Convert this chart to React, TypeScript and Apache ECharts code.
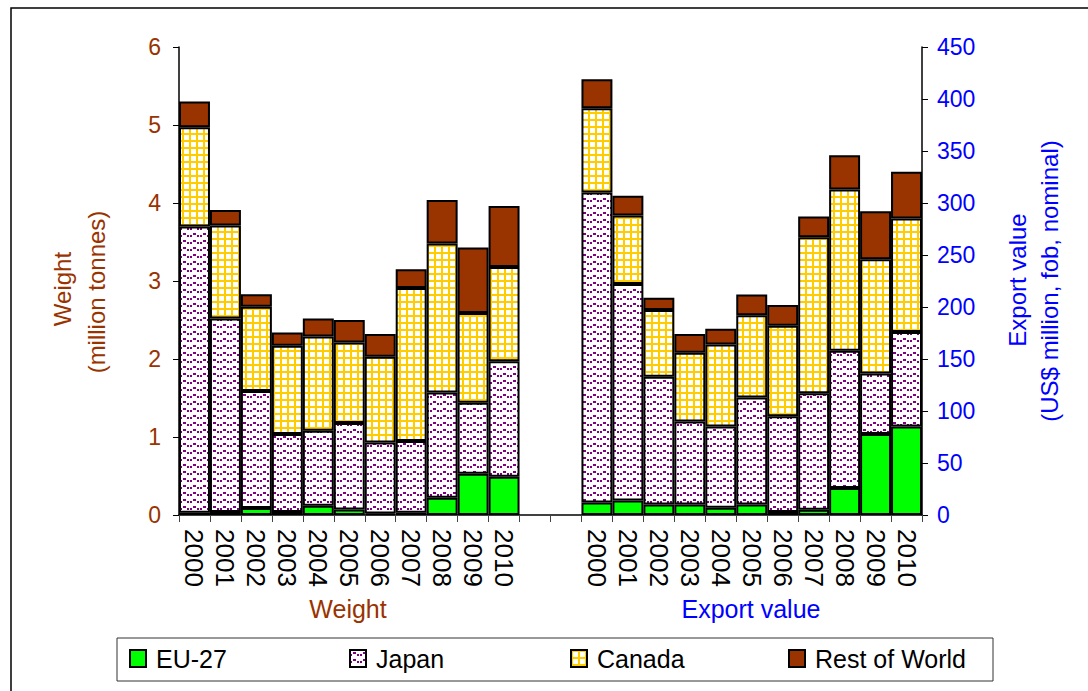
import React, { useEffect, useRef } from 'react';
import * as echarts from 'echarts';

const years = ['2000', '2001', '2002', '2003', '2004', '2005', '2006', '2007', '2008', '2009', '2010'];
const gapCategories = ['', ''];

// Weight (million tonnes)
const weightEU = [0.03, 0.04, 0.09, 0.04, 0.12, 0.07, 0.02, 0.03, 0.22, 0.53, 0.49];
const weightJapan = [3.67, 2.48, 1.5, 1.0, 0.96, 1.11, 0.91, 0.92, 1.35, 0.91, 1.48];
const weightCanada = [1.27, 1.19, 1.08, 1.13, 1.21, 1.03, 1.1, 1.96, 1.91, 1.15, 1.21];
const weightRoW = [0.33, 0.2, 0.16, 0.17, 0.23, 0.29, 0.29, 0.24, 0.56, 0.84, 0.78];

// Export value (US$ million)
const valueEU = [12, 14, 10, 10, 7, 10, 3, 5, 26, 78, 85];
const valueJapan = [298, 208, 123, 80, 78, 103, 92, 112, 132, 58, 91];
const valueCanada = [81, 66, 64, 66, 79, 79, 87, 150, 155, 110, 109];
const valueRoW = [28, 19, 12, 18, 15, 20, 20, 20, 33, 46, 45];

const seriesNames = ['EU-27', 'Japan', 'Canada', 'Rest of World'];

const FONT = '"Liberation Sans", Arial, sans-serif';
const BROWN = '#993300';
const BLUE = '#0000FF';

function japanPattern() {
  const c = document.createElement('canvas');
  c.width = 10;
  c.height = 7;
  const g = c.getContext('2d')!;
  g.fillStyle = '#ffffff';
  g.fillRect(0, 0, 10, 7);
  g.fillStyle = '#800080';
  g.fillRect(0, 4, 2, 2);
  g.fillRect(3, 2, 3, 2);
  g.fillRect(7, 4, 2, 2);
  return c;
}

function canadaPattern() {
  const c = document.createElement('canvas');
  c.width = 7;
  c.height = 7;
  const g = c.getContext('2d')!;
  g.fillStyle = '#ffffff';
  g.fillRect(0, 0, 7, 7);
  g.fillStyle = '#FFCC00';
  g.fillRect(0, 0, 7, 2);
  g.fillRect(0, 0, 2, 7);
  return c;
}

export default function App() {
  const ref = useRef<HTMLDivElement>(null);

  useEffect(() => {
    if (!ref.current) return;
    const chart = echarts.init(ref.current, null, { renderer: 'svg' });

    const categories = [...years, ...gapCategories, ...years];
    const blanks = (n: number) => Array(n).fill('-');
    const nGap = gapCategories.length;
    const weightPad = (arr: number[]) => [...arr, ...blanks(nGap + years.length)];
    const valuePad = (arr: number[]) => [...blanks(years.length + nGap), ...arr];

    const colors: any[] = [
      '#00FF00',
      { image: japanPattern(), repeat: 'repeat' },
      { image: canadaPattern(), repeat: 'repeat' },
      '#993300',
    ];

    const weightData = [weightEU, weightJapan, weightCanada, weightRoW];
    const valueData = [valueEU, valueJapan, valueCanada, valueRoW];

    const series: any[] = [];
    seriesNames.forEach((name, i) => {
      series.push({
        type: 'bar',
        name,
        stack: 'weight',
        yAxisIndex: 0,
        data: weightPad(weightData[i]),
        barGap: '-100%',
        barCategoryGap: '0%',
        itemStyle: { color: colors[i], borderColor: '#000', borderWidth: 2 },
        emphasis: { disabled: true },
      });
    });
    seriesNames.forEach((name, i) => {
      series.push({
        type: 'bar',
        name,
        stack: 'value',
        yAxisIndex: 1,
        data: valuePad(valueData[i]),
        barGap: '-100%',
        barCategoryGap: '0%',
        itemStyle: { color: colors[i], borderColor: '#000', borderWidth: 2 },
        emphasis: { disabled: true },
      });
    });

    const legendLefts = [129, 349, 570, 788];
    const legends = seriesNames.map((name, i) => ({
      data: [name],
      left: legendLefts[i],
      top: 646,
      padding: 0,
      itemWidth: 16,
      itemHeight: 17,
      icon: 'rect',
      selectedMode: false,
      textStyle: { fontSize: 25, color: '#000', fontFamily: FONT, padding: [0, 0, 0, 5] },
    }));

    chart.setOption({
      animation: false,
      backgroundColor: '#ffffff',
      grid: { left: 179, right: 166, top: 47, bottom: 176, containLabel: false },
      legend: legends,
      xAxis: {
        type: 'category',
        data: categories,
        axisLine: { show: true, lineStyle: { color: '#000', width: 1.5 } },
        axisTick: { show: true, length: 7, lineStyle: { color: '#444' }, interval: 0 },
        axisLabel: {
          interval: 0,
          rotate: -90,
          fontSize: 26,
          color: '#000',
          fontFamily: FONT,
          margin: 14,
        },
        splitLine: { show: false },
      },
      yAxis: [
        {
          type: 'value',
          min: 0,
          max: 6,
          interval: 1,
          position: 'left',
          axisLine: { show: true, lineStyle: { color: '#000', width: 1.5 } },
          axisTick: { show: true, length: 6, lineStyle: { color: '#000' } },
          axisLabel: { color: BROWN, fontSize: 23, fontFamily: FONT, margin: 18 },
          splitLine: { show: false },
        },
        {
          type: 'value',
          min: 0,
          max: 450,
          interval: 50,
          position: 'right',
          axisLine: { show: true, lineStyle: { color: '#000', width: 1.5 } },
          axisTick: { show: true, length: 6, lineStyle: { color: '#000' } },
          axisLabel: { color: BLUE, fontSize: 23, fontFamily: FONT, margin: 15 },
          splitLine: { show: false },
        },
      ],
      graphic: [
        {
          type: 'rect',
          shape: { x: 11, y: 8, width: 1200, height: 800 },
          style: { fill: 'none', stroke: '#000', lineWidth: 1.5 },
          silent: true,
        },
        {
          type: 'rect',
          shape: { x: 117, y: 638, width: 876, height: 43 },
          style: { fill: 'none', stroke: '#333', lineWidth: 1 },
          silent: true,
        },
        {
          type: 'text',
          x: 62,
          y: 289,
          rotation: Math.PI / 2,
          style: { text: 'Weight', fill: BROWN, font: `24px ${FONT}`, align: 'center', verticalAlign: 'middle' },
        },
        {
          type: 'text',
          x: 96,
          y: 292,
          rotation: Math.PI / 2,
          style: { text: '(million tonnes)', fill: BROWN, font: `24px ${FONT}`, align: 'center', verticalAlign: 'middle' },
        },
        {
          type: 'text',
          x: 1017,
          y: 280,
          rotation: Math.PI / 2,
          style: { text: 'Export value', fill: BLUE, font: `24px ${FONT}`, align: 'center', verticalAlign: 'middle' },
        },
        {
          type: 'text',
          x: 1049,
          y: 281,
          rotation: Math.PI / 2,
          style: { text: '(US$ million, fob, nominal)', fill: BLUE, font: `24px ${FONT}`, align: 'center', verticalAlign: 'middle' },
        },
        {
          type: 'text',
          x: 348,
          y: 609,
          style: { text: 'Weight', fill: BROWN, font: `25px ${FONT}`, align: 'center', verticalAlign: 'middle' },
        },
        {
          type: 'text',
          x: 751,
          y: 609,
          style: { text: 'Export value', fill: BLUE, font: `25px ${FONT}`, align: 'center', verticalAlign: 'middle' },
        },
      ],
      series,
    });

    return () => chart.dispose();
  }, []);

  return (
    <div
      ref={ref}
      style={{ position: 'absolute', left: 0, top: 0, width: 1088, height: 691 }}
    />
  );
}
